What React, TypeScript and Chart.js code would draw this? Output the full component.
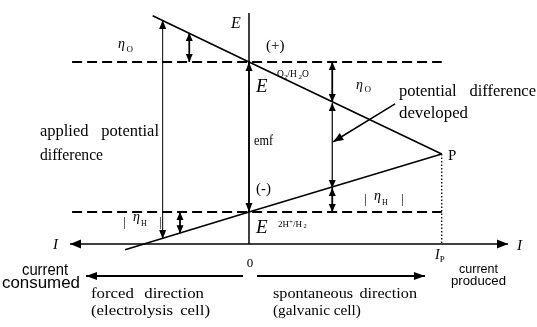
import React, { useEffect, useRef } from "react";
import { Chart, registerables } from "chart.js";
Chart.register(...registerables);

// ---------- data (I in units of I_P, E in volts) ----------
const reversibleE = [1.23, 0]; // E O2/H2O , E 2H+/H2
const dashedI = [-0.918, 1];
const anodeI = [-0.5, 0, 1];
const anodeE = [1.61, 1.23, 0.475];
const cathodeI = [-0.643, 0, 1];
const cathodeE = [-0.31, 0, 0.475];
const peakPoint = [1, 0.475]; // P : (I_P, E)
const currentAxisI = [-0.929, 1.344];
const currentAxisE = -0.262;
const potentialAxisTopE = 1.632;
// vertical arrows: [I, E from, E to]
const appliedArrow = [-0.448, -0.221, 1.574];
const etaOLeftArrow = [-0.31, 1.23, 1.468];
const etaHLeftArrow = [-0.358, 0, -0.175];
const emfArrow = [0, 0, 1.23];
const etaORightArrow = [0.432, 1.23, 0.902];
const developedArrow = [0.432, 0.894, 0.197];
const etaHRightArrow = [0.432, 0.197, 0];
const pointerArrowI = [0.758, 0.4375];
const pointerArrowE = [0.886, 0.576];
const forcedArrowI = [-0.031, -0.846];
const spontaneousArrowI = [0.0415, 0.913];
const directionArrowE = -0.525;

// ---------- layout ----------
const W = 537, H = 327;
const X_MIN = -1.29216, X_MAX = 1.49456, Y_MIN = -0.943, Y_MAX = 1.7384;
const SERIF = "'Liberation Serif'";
const SANS = "'Liberation Sans'";

function seg(I: number[], E: number[], width: number, extra: any = {}) {
  return {
    data: I.map((x, i) => ({ x, y: E[i] })),
    showLine: true,
    borderColor: "#000",
    backgroundColor: "#000",
    borderWidth: width,
    pointRadius: 0,
    fill: false,
    tension: 0,
    ...extra,
  };
}
function vArrow(a: number[], width: number, hl: number, hw: number, heads = "both") {
  return seg([a[0], a[0]], [a[1], a[2]], width, { heads, hl, hw });
}

function txt(ctx: CanvasRenderingContext2D, s: string, x: number, y: number, font: string, o: any = {}) {
  ctx.save();
  ctx.font = font;
  ctx.fillStyle = "#000";
  ctx.textBaseline = "alphabetic";
  let sx = o.sx ?? 1;
  const words = s.split(" ");
  const w0 = ctx.measureText(s).width;
  let ws = 0;
  if (o.w) {
    if (words.length > 1) {
      ws = Math.max(0, (o.w / sx - w0) / (words.length - 1));
    } else sx = o.w / w0;
  }
  const total = (w0 + ws * (words.length - 1)) * sx;
  let x0 = x;
  if (o.align === "center") x0 = x - total / 2;
  ctx.translate(x0, y);
  ctx.scale(sx, 1);
  let cx = 0;
  const sp = ctx.measureText(" ").width;
  for (const wd of words) {
    ctx.fillText(wd, cx, 0);
    cx += ctx.measureText(wd).width + sp + ws;
  }
  ctx.restore();
}

function rich(ctx: CanvasRenderingContext2D, x: number, y: number, parts: [string, number, number, boolean?][]) {
  ctx.save();
  ctx.fillStyle = "#000";
  let cx = x;
  for (const [t, size, dy, it] of parts) {
    ctx.font = `${it ? "italic " : ""}${size}px ${SERIF}`;
    ctx.fillText(t, cx, y + dy);
    cx += ctx.measureText(t).width;
  }
  ctx.restore();
}

const arrowPlugin = {
  id: "arrowheads",
  afterDatasetsDraw(chart: any) {
    const ctx: CanvasRenderingContext2D = chart.ctx;
    chart.data.datasets.forEach((ds: any, i: number) => {
      if (!ds.heads) return;
      const pts = chart.getDatasetMeta(i).data;
      const a = pts[0], b = pts[pts.length - 1];
      const head = (tip: any, from: any) => {
        const dx = tip.x - from.x, dy = tip.y - from.y;
        const L = Math.hypot(dx, dy) || 1;
        const ux = dx / L, uy = dy / L;
        const bx = tip.x - ux * ds.hl, by = tip.y - uy * ds.hl;
        ctx.beginPath();
        ctx.moveTo(tip.x, tip.y);
        ctx.lineTo(bx - uy * ds.hw, by + ux * ds.hw);
        ctx.lineTo(bx + uy * ds.hw, by - ux * ds.hw);
        ctx.closePath();
        ctx.fillStyle = "#000";
        ctx.fill();
      };
      ctx.save();
      if (ds.heads === "end" || ds.heads === "both") head(b, a);
      if (ds.heads === "start" || ds.heads === "both") head(a, b);
      ctx.restore();
    });
  },
};

const labelPlugin = {
  id: "labels",
  beforeDraw(chart: any) {
    const ctx = chart.ctx;
    ctx.save();
    ctx.fillStyle = "#fff";
    ctx.fillRect(0, 0, chart.width, chart.height);
    ctx.restore();
  },
  afterDraw(chart: any) {
    const ctx: CanvasRenderingContext2D = chart.ctx;
    const it = (s: number) => `italic ${s}px ${SERIF}`;
    const rm = (s: number) => `${s}px ${SERIF}`;
    txt(ctx, "E", 231, 28, it(16));
    txt(ctx, "(+)", 266, 50, rm(15));
    txt(ctx, "E", 256, 92, it(19));
    rich(ctx, 277, 77, [["O", 9.5, 0], ["2", 7, 2], ["/H", 9.5, 0], [" 2", 7, 2], ["O", 9.5, 0]]);
    rich(ctx, 118, 48, [["η", 14, 0, true], [" ", 6, 0], ["O", 9, 4]]);
    rich(ctx, 356, 89, [["η", 14, 0, true], [" ", 6, 0], ["O", 9, 3]]);
    txt(ctx, "potential difference", 399, 96, rm(16), { w: 137, sx: 1.03 });
    txt(ctx, "developed", 399, 118, rm(16), { w: 69 });
    txt(ctx, "applied potential", 40, 136, rm(16), { w: 119, sx: 1.03 });
    txt(ctx, "difference", 40, 160, rm(16), { w: 63 });
    txt(ctx, "emf", 254, 145, rm(15), { w: 19 });
    txt(ctx, "P", 448, 160, rm(15));
    txt(ctx, "(-)", 256, 193, rm(15));
    // |eta_H| left and right
    txt(ctx, "|", 123, 226, rm(13));
    rich(ctx, 133, 221, [["η", 14, 0, true], [" ", 4, 0], ["H", 8, 5]]);
    txt(ctx, "|", 159, 226, rm(13));
    txt(ctx, "|", 364, 203, rm(13));
    rich(ctx, 374, 200, [["η", 14, 0, true], [" ", 4, 0], ["H", 8, 5]]);
    txt(ctx, "|", 401, 203, rm(13));
    txt(ctx, "E", 256, 233, it(19));
    rich(ctx, 278, 227, [["2H", 9, 0], ["+", 7, -3], ["/H", 9, 0], [" 2", 6.5, 1]]);
    txt(ctx, "I", 53, 249, it(15));
    txt(ctx, "I", 517, 250, it(15));
    rich(ctx, 435, 259, [["I", 14, 0, true], ["P", 9, 3]]);
    txt(ctx, "0", 250, 267, rm(13), { align: "center" });
    txt(ctx, "current", 45, 275, `16px ${SANS}`, { align: "center", w: 46 });
    txt(ctx, "consumed", 41, 288, `16px ${SANS}`, { align: "center", w: 78 });
    txt(ctx, "current", 478.5, 273, `13.5px ${SANS}`, { align: "center", w: 39 });
    txt(ctx, "produced", 478.5, 285, `13.5px ${SANS}`, { align: "center", w: 55 });
    txt(ctx, "forced direction", 91, 298, rm(15), { w: 113, sx: 1.12 });
    txt(ctx, "(electrolysis cell)", 91, 315, rm(15), { w: 119, sx: 1.12 });
    txt(ctx, "spontaneous direction", 273, 298, rm(15), { w: 144, sx: 1.08 });
    txt(ctx, "(galvanic cell)", 273, 315, rm(15), { w: 87, sx: 1.02 });
  },
};

export default function App() {
  const ref = useRef<HTMLCanvasElement>(null);
  useEffect(() => {
    if (!ref.current) return;
    const datasets: any[] = [
      seg(dashedI, [reversibleE[0], reversibleE[0]], 1.8, { borderDash: [10, 5] }),
      seg(dashedI, [reversibleE[1], reversibleE[1]], 1.8, { borderDash: [10, 5] }),
      seg(anodeI, anodeE, 1.6),
      seg(cathodeI, cathodeE, 1.6),
      seg([peakPoint[0], peakPoint[0]], [peakPoint[1], currentAxisE], 1.3, { borderDash: [1.5, 2] }),
      seg(currentAxisI, [currentAxisE, currentAxisE], 1.5, { heads: "both", hl: 11, hw: 4.5 }),
      seg([0, 0], [currentAxisE, potentialAxisTopE], 1.5),
      vArrow(emfArrow, 1.5, 9, 3.5),
      vArrow(appliedArrow, 1, 9, 3.5),
      vArrow(etaOLeftArrow, 1.8, 8, 3.5),
      vArrow(etaHLeftArrow, 1.8, 8, 3.5),
      vArrow(etaORightArrow, 1.8, 8, 3.5),
      vArrow(developedArrow, 1.2, 8, 3.5),
      vArrow(etaHRightArrow, 1.8, 8, 3.5),
      seg(pointerArrowI, pointerArrowE, 1.5, { heads: "end", hl: 10, hw: 4 }),
      seg(forcedArrowI, [directionArrowE, directionArrowE], 2, { heads: "end", hl: 11, hw: 4 }),
      seg(spontaneousArrowI, [directionArrowE, directionArrowE], 2, { heads: "end", hl: 11, hw: 4 }),
    ];
    const chart = new Chart(ref.current, {
      type: "scatter",
      data: { datasets },
      options: {
        animation: false,
        responsive: false,
        maintainAspectRatio: false,
        events: [],
        layout: { padding: 0 },
        plugins: { legend: { display: false }, tooltip: { enabled: false } },
        scales: {
          x: { type: "linear", min: X_MIN, max: X_MAX, display: false },
          y: { type: "linear", min: Y_MIN, max: Y_MAX, display: false },
        },
      },
      plugins: [labelPlugin, arrowPlugin],
    } as any);
    return () => chart.destroy();
  }, []);
  return (
    <div style={{ position: "fixed", left: 0, top: 0, width: W, height: H, background: "#fff" }}>
      <canvas ref={ref} width={W} height={H} style={{ display: "block", width: W, height: H }} />
    </div>
  );
}
